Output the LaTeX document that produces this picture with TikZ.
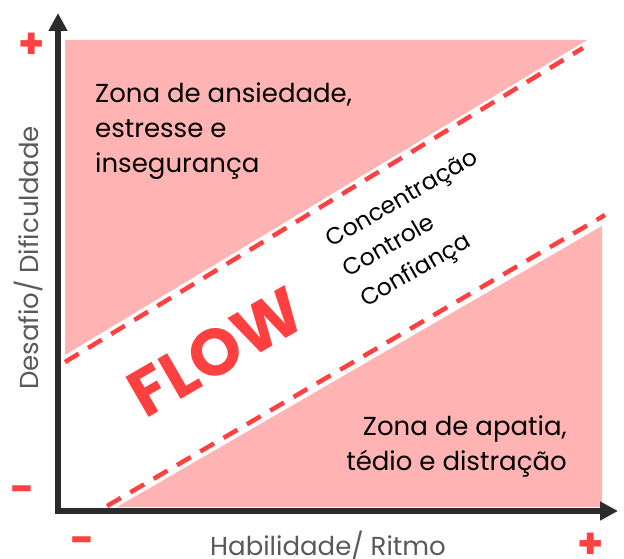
\documentclass[tikz,border=0pt]{standalone}
\usepackage{fontspec}
\setmainfont{Poppins}
\usetikzlibrary{arrows.meta}
\definecolor{zonepink}{HTML}{FFB3B3}
\definecolor{flowred}{HTML}{FF4040}
\definecolor{axisdark}{HTML}{2B2B2B}
\definecolor{labelgray}{HTML}{595959}

\begin{document}
\begin{tikzpicture}[x=1pt,y=-1pt,
    zone/.style={fill=zonepink},
    flowborder/.style={flowred,line width=4.5pt,dash pattern=on 16pt off 11pt},
    axisline/.style={axisdark,line width=6pt,
      {Triangle[length=18pt,width=18pt]}-{Triangle[length=18pt,width=18pt]}},
    zonetext/.style={inner sep=0pt,font=\fontsize{26}{35}\selectfont},
    statetext/.style={inner sep=0pt,rotate=30,align=left,font=\fontsize{23.5}{34.5}\selectfont},
    flowtext/.style={inner sep=0pt,rotate=30,flowred,font=\fontsize{66}{66}\selectfont\bfseries},
    axislabel/.style={inner sep=0pt,anchor=base,labelgray,font=\fontsize{26}{26}\selectfont},
    sign/.style={inner sep=0pt,flowred,font=\fontsize{42}{42}\selectfont\bfseries}]
  \useasboundingbox (0,0) rectangle (624,559);
  % zones
  \fill[zone] (65,40) -- (587,40) -- (65,355) -- cycle;
  \fill[zone] (117,507) -- (602,226) -- (602,507) -- cycle;
  % flow channel
  \draw[flowborder] (65,362) -- (583,48);
  \draw[flowborder] (107,506) -- (605,215);
  % axes
  \draw[axisline] (58,13) -- (58,511) -- (618,511);
  \node[zonetext,anchor=north west,align=left] (anxiety) at (95,83)
    {Zona de ansiedade,\\estresse e\\insegurança};
  \node[zonetext,anchor=north east,align=right] (apathy) at (567,416)
    {Zona de apatia,\\tédio e distração};
  \node[flowtext] (flow) at (216,352) {FLOW};
  \node[statetext,anchor=west] (states) at (346,273)
    {Concentração\\Controle\\Confiança};
  \node[axislabel,rotate=90] (challenge) at (38,258) {Desafio/ Dificuldade};
  \node[axislabel] (skill) at (328,555) {Habilidade/ Ritmo};
  \node[sign] (highchallenge) at (32,46) {+};
  \node[sign] (lowchallenge) at (23,495) {-};
  \node[sign] (lowskill) at (83,546) {-};
  \node[sign] (highskill) at (591,546) {+};
\end{tikzpicture}
\end{document}
